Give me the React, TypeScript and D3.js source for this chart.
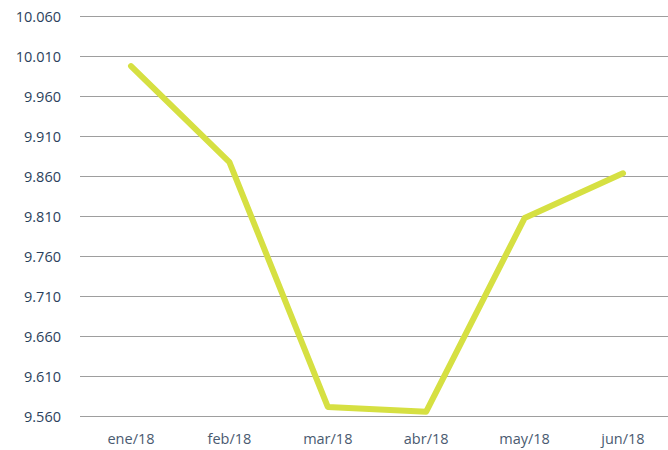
import React from 'react';
import * as d3 from 'd3';

const months = ['ene/18', 'feb/18', 'mar/18', 'abr/18', 'may/18', 'jun/18'];
const values = [9.998, 9.878, 9.572, 9.566, 9.808, 9.864];
const yTicks = [9.56, 9.61, 9.66, 9.71, 9.76, 9.81, 9.86, 9.91, 9.96, 10.01, 10.06];

const W = 668;
const H = 450;

const fmt = (v: number) => {
  const s = v.toFixed(3).split('.');
  return s[0] + '.' + s[1];
};

const App = () => {
  const x = d3.scalePoint<string>().domain(months).range([131, 623]);
  const y = d3.scaleLinear().domain([9.56, 10.06]).range([416.5, 16.5]);

  const line = d3.line<number>()
    .x((_, i) => x(months[i]) as number)
    .y(d => y(d));

  return (
    <svg width={W} height={H} style={{ position: 'absolute', top: 0, left: 0, background: '#fff' }}
      fontFamily="'Open Sans', sans-serif">
      {/* grid + y labels */}
      {yTicks.map(t => (
        <g key={t}>
          <line x1={80} x2={W} y1={y(t)} y2={y(t)} stroke="#9e9e9e" strokeWidth={1.2} />
          <text x={61} y={y(t)} dy="0.35em" textAnchor="end" fontSize={14.5} fill="#2b3f5c">
            {fmt(t)}
          </text>
        </g>
      ))}
      {months.map(m => (
        <text key={m} x={x(m)} y={444} textAnchor="middle" fontSize={14.5} fill="#4a5a70">{m}</text>
      ))}
      <path d={line(values) || ''} fill="none" stroke="#d6e042" strokeWidth={6}
        strokeLinecap="round" strokeLinejoin="round" />
    </svg>
  );
};

export default App;
